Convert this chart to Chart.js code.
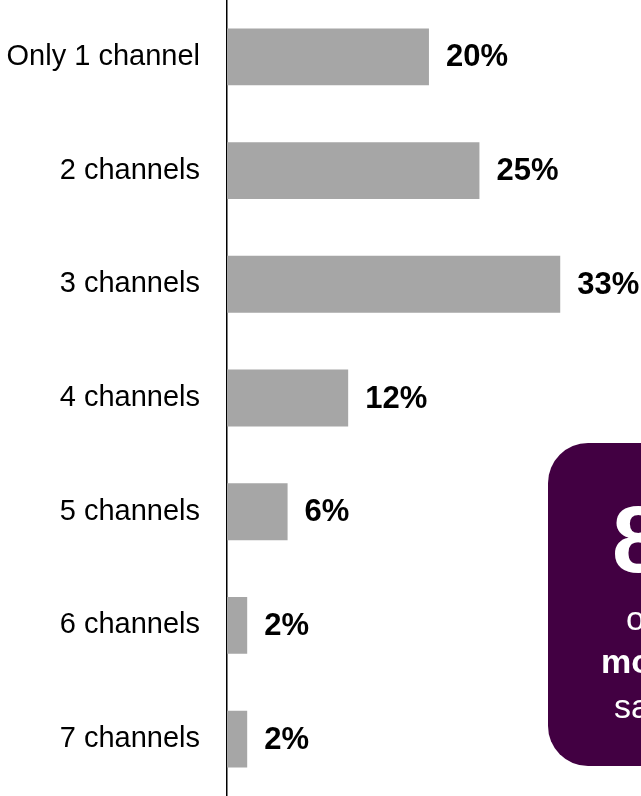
<!DOCTYPE html>
<html>
<head>
<meta charset="utf-8">
<script src="https://cdn.jsdelivr.net/npm/chart.js@4/dist/chart.umd.min.js"></script>
<style>
  html, body { margin: 0; padding: 0; background: #fff; overflow: hidden; }
  #wrap { width: 641px; height: 796px; position: relative; }
</style>
</head>
<body>
<div id="wrap"><canvas id="chart"></canvas></div>
<script>
const categories = ['Only 1 channel', '2 channels', '3 channels', '4 channels', '5 channels', '6 channels', '7 channels']
const shares = [20, 25, 33, 12, 6, 2, 2]

// callout box text, it runs off the right side
const calloutLines = [
  { text: '85%', font: 'bold 95px "Liberation Sans", Arial, sans-serif', x: 612, y: 546 },
  { text: 'of shoppers', font: '34px "Liberation Sans", Arial, sans-serif', x: 626, y: 621 },
  { text: 'more than one', font: 'bold 34px "Liberation Sans", Arial, sans-serif', x: 601, y: 664 },
  { text: 'same purchase', font: '34px "Liberation Sans", Arial, sans-serif', x: 614, y: 709 }
]

const barGrey = '#a6a6a6'
const purple = '#420042'

const valueLabels = {
  id: 'valueLabels',
  afterDatasetsDraw: (chart) => {
    const ctx = chart.ctx
    const meta = chart.getDatasetMeta(0)
    ctx.save()
    ctx.font = 'bold 31px "Liberation Sans", Arial, sans-serif'
    ctx.fillStyle = '#000'
    ctx.textAlign = 'left'
    ctx.textBaseline = 'middle'
    meta.data.forEach((bar, i) => {
      ctx.fillText(shares[i] + '%', bar.x + 17, bar.y + 1)
    })
    ctx.restore()
  }
}

const callout = {
  id: 'callout',
  afterDraw: (chart) => {
    const ctx = chart.ctx
    ctx.save()
    ctx.fillStyle = purple
    ctx.beginPath()
    ctx.roundRect(548, 443, 200, 323, 40)
    ctx.fill()
    ctx.fillStyle = '#fff'
    ctx.textAlign = 'left'
    ctx.textBaseline = 'middle'
    calloutLines.forEach(l => {
      ctx.font = l.font
      ctx.fillText(l.text, l.x, l.y)
    })
    ctx.restore()
  }
}

const ctx = document.getElementById('chart').getContext('2d')

const myChart = new Chart(ctx, {
  type: 'bar',
  data: {
    labels: categories,
    datasets: [{
      data: shares,
      backgroundColor: barGrey,
      borderWidth: 0,
      barPercentage: 0.5,
      categoryPercentage: 1.0
    }]
  },
  options: {
    indexAxis: 'y',
    responsive: true,
    maintainAspectRatio: false,
    animation: false,
    layout: { padding: 0 },
    plugins: {
      legend: { display: false },
      tooltip: { enabled: false }
    },
    scales: {
      x: {
        display: false,
        min: 0,
        max: 41
      },
      y: {
        grid: { display: false, drawTicks: false },
        border: { display: true, color: '#000', width: 1.5 },
        ticks: {
          color: '#000',
          padding: 27,
          font: { family: '"Liberation Sans", Arial, sans-serif', size: 29 }
        },
        afterFit: (scale) => {
          scale.width = 227
          scale.paddingTop = 0
          scale.paddingBottom = 0
        }
      }
    }
  },
  plugins: [valueLabels, callout]
})
</script>
</body>
</html>
